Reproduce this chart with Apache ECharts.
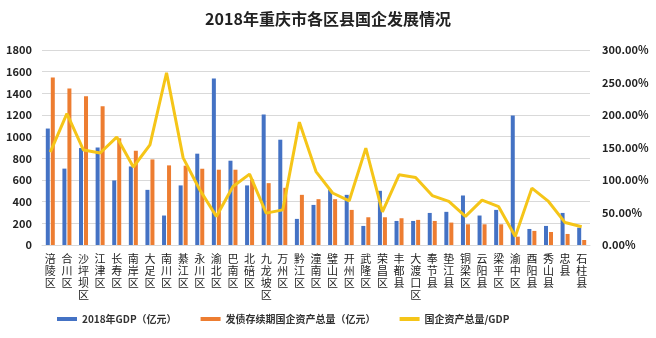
<!DOCTYPE html>
<html><head><meta charset="utf-8">
<script src="https://cdn.jsdelivr.net/npm/echarts@6/dist/echarts.min.js"></script>
<style>html,body{margin:0;padding:0;background:#fff}#c{width:656px;height:338px}</style>
</head><body><div id="c"></div>
<script>
const categories = ['涪陵区','合川区','沙坪坝区','江津区','长寿区','南岸区','大足区','南川区','綦江区','永川区','渝北区','巴南区','北碚区','九龙坡区','万州区','黔江区','潼南区','璧山区','开州区','武隆区','荣昌区','丰都县','大渡口区','奉节县','垫江县','铜梁区','云阳县','梁平区','渝中区','酉阳县','秀山县','忠县','石柱县'];
const gdp = [1075,705,895,900,596,725,509,272,550,843,1537,778,550,1204,972,241,370,509,463,176,500,222,222,296,306,457,272,324,1195,148,176,296,160];
const assets = [1547,1445,1374,1281,985,870,790,735,732,704,695,695,605,571,528,463,423,423,324,256,256,247,232,222,207,191,191,191,77,130,120,102,46];
const ratio = [143,202,146,141.5,166,120,154,265,134,85,44,90,109,49,54,189,113,80,68,149,51,108,104,76,67,44,69,59,13,87.5,67,34.5,28];
const seriesNames = ['2018年GDP（亿元）','发债存续期国企资产总量（亿元）','国企资产总量/GDP'];
const title = '2018年重庆市各区县国企发展情况';

const chart = echarts.init(document.getElementById('c'));
const font = '"Microsoft YaHei","Noto Sans CJK SC",sans-serif';
chart.setOption({
  animation:false,
  title:{text:title,left:'center',top:6,textStyle:{fontSize:16,fontWeight:'bold',color:'#222',fontFamily:font}},
  legend:{bottom:9,left:52,itemGap:24,itemWidth:20,itemHeight:4,
    textStyle:{fontSize:10,fontWeight:'bold',color:'#333',fontFamily:font},
    data:[{name:seriesNames[0],icon:'rect'},{name:seriesNames[1],icon:'rect'},{name:seriesNames[2],icon:'rect'}]},
  grid:{left:42,right:66,top:50,bottom:93,containLabel:false},
  xAxis:{type:'category',data:categories,
    axisLine:{lineStyle:{color:'#d9d9d9'}},axisTick:{show:false},
    axisLabel:{interval:0,margin:8,fontSize:11,color:'#222',lineHeight:12,fontFamily:font,
      formatter:v=>v.split('').join('\n')}},
  yAxis:[
    {type:'value',min:0,max:1800,interval:200,
      axisLine:{show:false},axisTick:{show:false},
      splitLine:{lineStyle:{color:'#d9d9d9'}},
      axisLabel:{fontSize:11,fontWeight:'bold',color:'#222',margin:10,fontFamily:font,
        formatter:v=>String(v)}},
    {type:'value',min:0,max:300,interval:50,
      axisLine:{show:false},axisTick:{show:false},splitLine:{show:false},
      axisLabel:{fontSize:11,fontWeight:'bold',color:'#222',margin:12,fontFamily:font,
        formatter:v=>v.toFixed(2)+'%'}}
  ],
  series:[
    {name:seriesNames[0],type:'bar',data:gdp,barWidth:4,barGap:'25%',itemStyle:{color:'#4472C4'}},
    {name:seriesNames[1],type:'bar',data:assets,barWidth:4,itemStyle:{color:'#ED7D31'}},
    {name:seriesNames[2],type:'line',yAxisIndex:1,data:ratio,symbol:'none',
      lineStyle:{color:'#F5C518',width:3},itemStyle:{color:'#F5C518'}}
  ]
});
</script></body></html>
